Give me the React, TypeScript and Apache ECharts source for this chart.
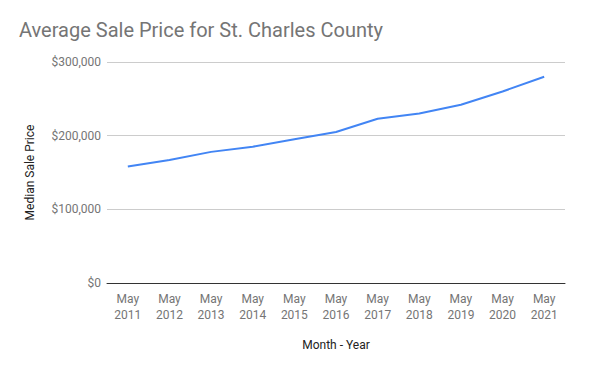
import React, { useEffect, useRef } from "react";
import * as echarts from "echarts";

const categories = ["May\n2011", "May\n2012", "May\n2013", "May\n2014", "May\n2015", "May\n2016", "May\n2017", "May\n2018", "May\n2019", "May\n2020", "May\n2021"];
const prices = [158000, 167000, 178000, 185000, 195000, 205000, 223000, 230000, 242000, 260000, 280000];

export default function App() {
  const ref = useRef<HTMLDivElement>(null);
  useEffect(() => {
    const chart = echarts.init(ref.current!, null, { renderer: "svg" });
    chart.setOption({
      animation: false,
      backgroundColor: "#ffffff",
      textStyle: { fontFamily: "Roboto" },
      title: {
        text: "Average Sale Price for St. Charles County",
        left: 19,
        top: 20,
        padding: 0,
        textStyle: { fontFamily: "Roboto", fontSize: 20, fontWeight: "normal", color: "#757575" },
      },
      grid: { left: 107, right: 35, top: 62, bottom: 88 },
      xAxis: {
        type: "category",
        data: categories,
        boundaryGap: true,
        name: "Month - Year",
        nameLocation: "middle",
        nameGap: 56,
        nameTextStyle: { fontFamily: "Roboto", fontSize: 12, color: "#222222" },
        axisLine: { lineStyle: { color: "#333333", width: 1 } },
        axisTick: { show: false },
        axisLabel: { color: "#757575", fontSize: 12, margin: 8, lineHeight: 16, fontFamily: "Roboto" },
      },
      yAxis: {
        type: "value",
        min: 0,
        max: 300000,
        interval: 100000,
        name: "Median Sale Price",
        nameLocation: "middle",
        nameGap: 71,
        nameTextStyle: { fontFamily: "Roboto", fontSize: 12, color: "#222222" },
        axisLine: { show: false },
        axisTick: { show: false },
        splitLine: { lineStyle: { color: "#cccccc" } },
        axisLabel: {
          color: "#757575",
          fontSize: 12,
          margin: 6,
          fontFamily: "Roboto",
          formatter: (v: number) => "$" + v.toLocaleString("en-US"),
        },
      },
      series: [
        {
          type: "line",
          data: prices,
          symbol: "none",
          lineStyle: { color: "#4285F4", width: 2 },
          itemStyle: { color: "#4285F4" },
        },
      ],
    });
    return () => chart.dispose();
  }, []);
  return <div ref={ref} style={{ width: 600, height: 371, position: "absolute", left: 0, top: 0 }} />;
}
